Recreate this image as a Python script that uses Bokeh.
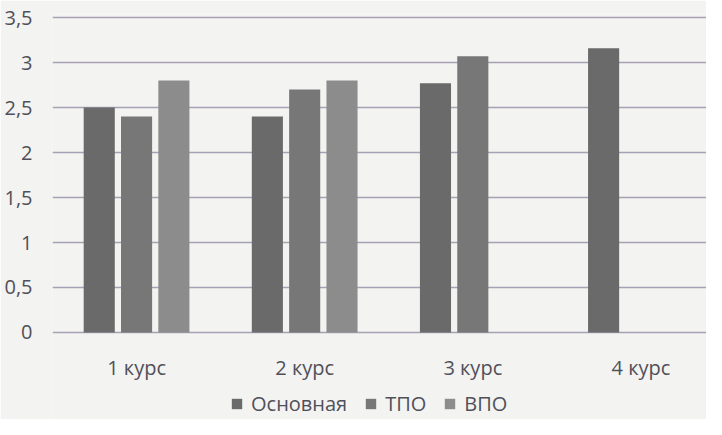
from bokeh.plotting import figure
from bokeh.models import ColumnDataSource, Legend, LegendItem, FixedTicker, Range1d
from bokeh.transform import dodge
from bokeh.core.properties import value
from bokeh.embed import file_html
from bokeh.resources import INLINE
import numpy as np

categories = ["1 курс", "2 курс", "3 курс", "4 курс"]
osnovnaya = [2.5, 2.4, 2.77, 3.16]
tpo = [2.4, 2.7, 3.07, None]
vpo = [2.8, 2.8, None, None]
series_names = ["Основная", "ТПО", "ВПО"]
colors = ["#6a6a6a", "#777777", "#8c8c8c"]
y_ticks = [0, 0.5, 1, 1.5, 2, 2.5, 3, 3.5]
y_tick_labels = ["0", "0,5", "1", "1,5", "2", "2,5", "3", "3,5"]

xs = [i + 0.5 for i in range(len(categories))]


def arr(v):
    return np.array([np.nan if t is None else t for t in v], dtype=float)


src = ColumnDataSource(dict(x=np.array(xs), a=arr(osnovnaya), b=arr(tpo), c=arr(vpo)))

FONT = "Open Sans"
BG = "#f3f3f1"
TXT = "#50505a"

# frame spans from just above the 3.5 line to the bottom of the picture;
# the area below 0 holds the category labels and the legend
p = figure(width=706, height=419, output_backend="svg", toolbar_location=None,
           x_range=Range1d(0, 3.89), y_range=Range1d(-0.967, 3.545),
           min_border_left=52, min_border_right=0, min_border_top=13, min_border_bottom=0)
p.background_fill_color = BG
p.border_fill_color = BG
p.outline_line_color = None

renderers = []
offsets = [-0.222, 0.0, 0.222]
for field, off, col in zip(["a", "b", "c"], offsets, colors):
    r = p.vbar(x=dodge("x", off), top=field, bottom=0, width=0.185, source=src,
               fill_color=col, line_color=None)
    renderers.append(r)

p.xgrid.grid_line_color = None
p.ygrid.ticker = FixedTicker(ticks=y_ticks)
p.ygrid.grid_line_color = "#a7a1b5"
p.ygrid.grid_line_width = 1.3

p.yaxis.ticker = FixedTicker(ticks=y_ticks)
p.yaxis.major_label_overrides = {t: l for t, l in zip(y_ticks, y_tick_labels)}
p.yaxis.axis_line_color = None
p.yaxis.major_tick_line_color = None
p.yaxis.minor_tick_line_color = None
p.yaxis.major_label_text_font = FONT
p.yaxis.major_label_text_font_size = "20px"
p.yaxis.major_label_text_color = TXT
p.yaxis.major_label_standoff = 14

p.xaxis.visible = False

lab_src = ColumnDataSource(dict(x=xs, y=[-0.39] * len(xs), t=categories))
p.text(x="x", y="y", text="t", source=lab_src, text_font=value(FONT), text_font_size="20px",
       text_color=TXT, text_align="center", text_baseline="middle")

legend = Legend(items=[LegendItem(label=n, renderers=[r]) for n, r in zip(series_names, renderers)],
                orientation="horizontal", location=(178, 2),
                label_text_font=FONT, label_text_font_size="20px", label_text_color=TXT,
                glyph_width=13, glyph_height=13, label_standoff=8, spacing=17,
                background_fill_alpha=0, border_line_color=None, margin=0, padding=2)
p.add_layout(legend, "center")

open("out.html", "w").write(file_html(p, INLINE))
